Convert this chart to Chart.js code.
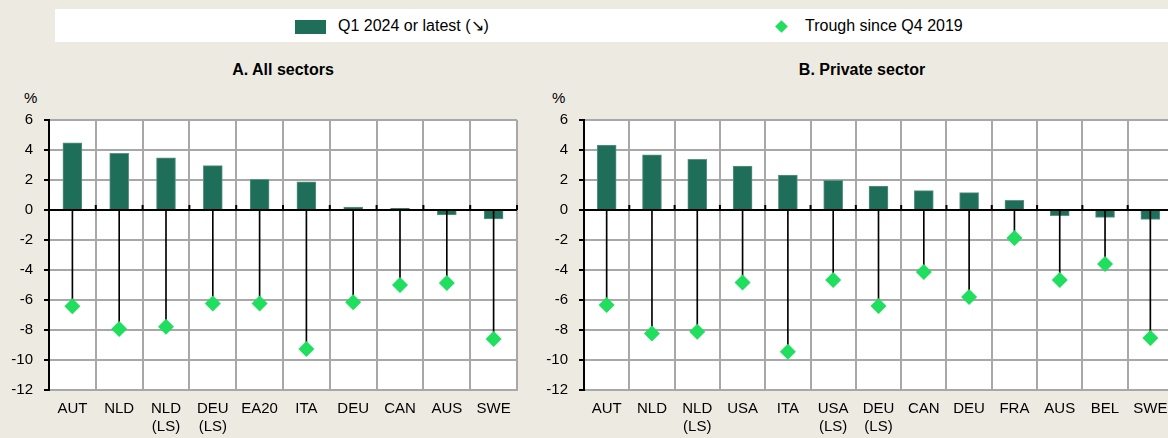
<!DOCTYPE html>
<html>
<head>
<meta charset="utf-8">
<script src="https://cdn.jsdelivr.net/npm/chart.js@4/dist/chart.umd.min.js"></script>
<style>
  body { margin: 0; width: 1168px; height: 438px; overflow: hidden; background: #EDEBE1; position: relative; font-family: 'Liberation Sans', Arial, sans-serif; color: #000; }
  #legend { position: absolute; left: 55px; top: 9px; width: 1113px; height: 33px; background: #fff; }
  .lg { position: absolute; top: 0; height: 33px; line-height: 33px; font-size: 16px; white-space: nowrap; }
  .sw { position: absolute; }
  .ttl { position: absolute; top: 60px; width: 240px; text-align: center; font-weight: bold; font-size: 16px; line-height: 20px; }
  .pct { position: absolute; top: 89px; font-size: 15px; line-height: 18px; }
  canvas { position: absolute; top: 100px; }
</style>
</head>
<body>
<div id="legend">
  <div class="sw" style="left:240px;top:11px;width:31px;height:14px;background:#1E6E59"></div>
  <div class="lg" style="left:283px">Q1 2024 or latest (↘)</div>
  <div class="sw" style="left:722px;top:13px;width:9px;height:9px;background:#20DE5E;transform:rotate(45deg)"></div>
  <div class="lg" style="left:750px">Trough since Q4 2019</div>
</div>
<div class="ttl" style="left:163px">A. All sectors</div>
<div class="ttl" style="left:742px">B. Private sector</div>
<div class="pct" style="left:24px">%</div>
<div class="pct" style="left:552px">%</div>
<canvas id="chartA" width="530" height="338" style="left:0"></canvas>
<canvas id="chartB" width="660" height="338" style="left:530px"></canvas>
<script>
const catsA = ['AUT', 'NLD', ['NLD', '(LS)'], ['DEU', '(LS)'], 'EA20', 'ITA', 'DEU', 'CAN', 'AUS', 'SWE'];
const latestA = [4.47, 3.78, 3.47, 2.96, 2.04, 1.87, 0.2, 0.11, -0.33, -0.6];
const troughA = [-6.42, -7.93, -7.78, -6.24, -6.24, -9.26, -6.15, -5.0, -4.86, -8.6];

const catsB = ['AUT', 'NLD', ['NLD', '(LS)'], 'USA', 'ITA', ['USA', '(LS)'], ['DEU', '(LS)'], 'CAN', 'DEU', 'FRA', 'AUS', 'BEL', 'SWE'];
const latestB = [4.33, 3.67, 3.38, 2.93, 2.33, 1.98, 1.6, 1.29, 1.16, 0.64, -0.38, -0.49, -0.62];
const troughB = [-6.33, -8.24, -8.11, -4.84, -9.45, -4.66, -6.4, -4.14, -5.8, -1.86, -4.66, -3.6, -8.53];

const yMin = -12, yMax = 6, yStep = 2;

const barColor = '#1E6E59';
const troughColor = '#20DE5E';
const gridColor = '#A8A8A8';
const font = { family: "'Liberation Sans', Arial, sans-serif", size: 15 };

// white plot area + small black ticks on the zero line
const plotBg = {
  id: 'plotBg',
  beforeDraw(chart) {
    const { ctx, chartArea: a } = chart;
    ctx.save();
    ctx.fillStyle = '#fff';
    ctx.fillRect(a.left, a.top, a.right - a.left, a.bottom - a.top);
    ctx.restore();
  },
  afterDatasetsDraw(chart) {
    const { ctx, scales: { x, y } } = chart;
    const y0 = y.getPixelForValue(0);
    const n = x.ticks.length;
    const w = (x.right - x.left) / n;
    ctx.save();
    ctx.strokeStyle = '#000';
    ctx.lineWidth = 2;
    ctx.beginPath();
    ctx.moveTo(x.left, y0);
    ctx.lineTo(x.right, y0);
    for (let i = 0; i <= n; i++) {
      const px = x.getPixelForValue(i) - w / 2;
      ctx.moveTo(px, y0);
      ctx.lineTo(px, y0 - 5);
    }
    ctx.stroke();
    ctx.restore();
  }
};

function makeChart(id, cats, latest, trough, yWidth, padRight) {
  return new Chart(document.getElementById(id), {
    data: {
      labels: cats,
      datasets: [
        { type: 'line', label: 'Trough since Q4 2019', data: trough, showLine: false, pointStyle: 'rectRot', pointRadius: 8, pointBackgroundColor: troughColor, pointBorderWidth: 0, order: 0 },
        { type: 'bar', label: 'stem', data: trough.map((t) => [0, t]), backgroundColor: '#000', barThickness: 1, grouped: false, order: 1 },
        { type: 'bar', label: 'Q1 2024 or latest (↘)', data: latest, backgroundColor: barColor, borderColor: '#5E9483', borderWidth: 1, barThickness: 19, grouped: false, order: 2 }
      ]
    },
    options: {
      responsive: false,
      devicePixelRatio: 1,
      animation: false,
      layout: { padding: { top: 18, right: padRight, left: 0, bottom: 0 } },
      plugins: { legend: { display: false }, tooltip: { enabled: false } },
      scales: {
        x: {
          offset: true,
          grid: { offset: true, color: gridColor, lineWidth: 2, drawTicks: false },
          border: { color: gridColor, width: 2 },
          ticks: { color: '#000', font, padding: 10, maxRotation: 0, autoSkip: false },
          afterFit: (s) => { s.height = 48; }
        },
        y: {
          min: yMin,
          max: yMax,
          grid: { color: gridColor, lineWidth: 2, tickColor: '#000', tickLength: 5, tickWidth: 2 },
          border: { color: '#000', width: 2 },
          ticks: { stepSize: yStep, color: '#000', font, padding: 11 },
          afterFit: (s) => { s.width = yWidth; }
        }
      }
    },
    plugins: [plotBg]
  });
}

makeChart('chartA', catsA, latestA, troughA, 49, 13);
makeChart('chartB', catsB, latestB, troughB, 54, 17);
</script>
</body>
</html>
